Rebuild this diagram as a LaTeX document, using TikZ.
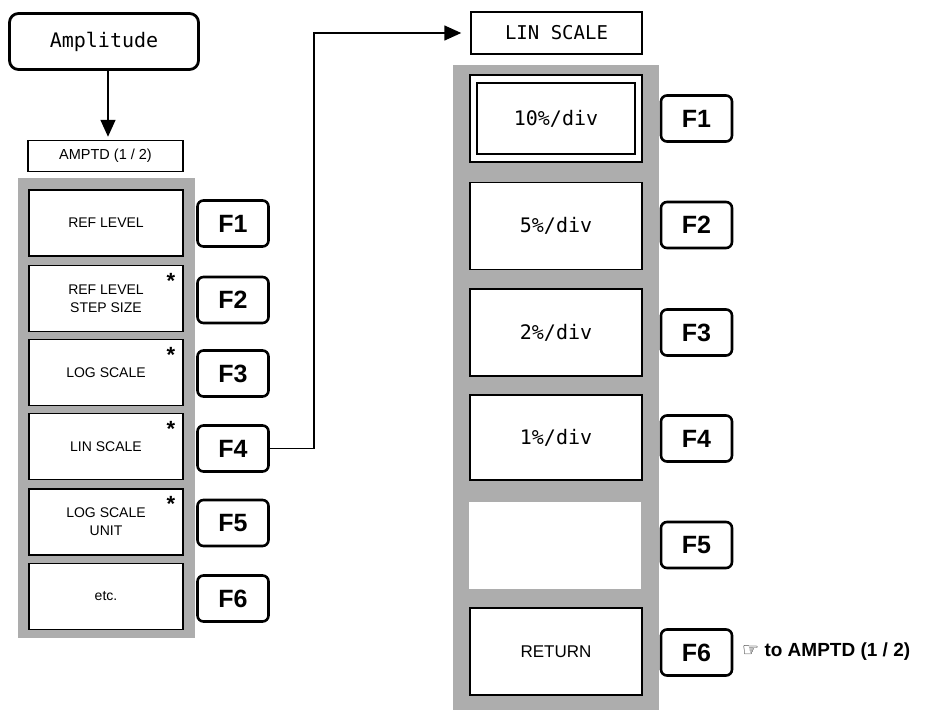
\documentclass[tikz,border=0pt]{standalone}
\usepackage{fontspec}
\setmainfont{Liberation Sans}
\newfontfamily\monofont{DejaVu Sans Mono}
\newfontfamily\symfont{DejaVu Sans}
\usetikzlibrary{arrows.meta}
\tikzset{
  panel/.style={fill=black!32, draw=none},
  menubox/.style={draw, line width=1.6pt, fill=white, minimum width=154pt, minimum height=66pt, inner sep=0pt, align=center, font=\fontsize{14}{18}\selectfont},
  rbox/.style={draw, line width=1.6pt, fill=white, minimum width=172pt, minimum height=87pt, inner sep=0pt, font=\monofont\fontsize{20}{24}\selectfont},
  fkey/.style={draw, line width=2.6pt, rounded corners=6pt, fill=white, minimum width=71pt, minimum height=46pt, inner sep=0pt, font=\bfseries\fontsize{25}{28}\selectfont},
  hdr/.style={draw, line width=1.5pt, fill=white, inner sep=0pt},
  starmark/.style={inner sep=0pt, font=\bfseries\fontsize{22}{22}\selectfont},
  conn/.style={line width=1.6pt},
  tip/.style={-{Triangle[length=17pt,width=15pt]}}
}
\begin{document}
\begin{tikzpicture}[x=1pt,y=-1pt]
\useasboundingbox (0,0) rectangle (941,713);
% header chain
\node[draw, line width=2.8pt, rounded corners=9pt, minimum width=189pt, minimum height=56pt, inner sep=0pt, font=\monofont\fontsize{20}{24}\selectfont] (amp) at (104,41.5) {Amplitude};
\node[hdr, minimum width=155pt, minimum height=31pt, font=\fontsize{14.5}{17}\selectfont] (amptd) at (105.5,156) {AMPTD (1 / 2)};
\coordinate (ampdown) at (108,70);
\draw[conn, tip, shorten >=3pt] (ampdown) -- (ampdown |- amptd.north);
% left panel
\fill[panel] (18,178) rectangle (195,638);
\node[menubox] (b1) at (106,223) {REF LEVEL};
\node[menubox] (b2) at (106,298.5) {REF LEVEL\\STEP SIZE};
\node[menubox] (b3) at (106,372.5) {LOG SCALE};
\node[menubox] (b4) at (106,446.5) {LIN SCALE};
\node[menubox] (b5) at (106,522) {LOG SCALE\\UNIT};
\node[menubox] (b6) at (106,596.5) {etc.};
\node[starmark] (s2) at (171,281) {*};
\node[starmark] (s3) at (171,355) {*};
\node[starmark] (s4) at (171,429) {*};
\node[starmark] (s5) at (171,504) {*};
\node[fkey] (lf1) at (233,223.5) {F1};
\node[fkey] (lf2) at (233,300) {F2};
\node[fkey] (lf3) at (233,373.5) {F3};
\node[fkey] (lf4) at (233,448.5) {F4};
\node[fkey] (lf5) at (233,523) {F5};
\node[fkey] (lf6) at (233,598.5) {F6};
% LIN SCALE header
\node[hdr, minimum width=171pt, minimum height=42pt, font=\monofont\fontsize{19}{22}\selectfont] (lin) at (556.5,33) {LIN SCALE};
\coordinate (bend) at (314,33);
\draw[conn, tip, shorten >=9pt] (lf4.east) -| (bend) -- (lin.west);
% right panel
\fill[panel] (453,65) rectangle (659,710);
\node[rbox] (r1) at (556,118.5) {};
\node[draw, line width=1.6pt, minimum width=158pt, minimum height=71pt, inner sep=0pt, font=\monofont\fontsize{20}{24}\selectfont] (r1in) at (r1.center) {10\%/div};
\node[rbox] (r2) at (556,226) {5\%/div};
\node[rbox] (r3) at (556,332.5) {2\%/div};
\node[rbox] (r4) at (556,437.5) [minimum height=85pt] {1\%/div};
\node[rbox, draw=none] (r5) at (555,545) {};
\node[rbox, font=\fontsize{17}{20}\selectfont] (r6) at (556,651.5) {RETURN};
\node[fkey] (rf1) at (696.5,118.5) {F1};
\node[fkey] (rf2) at (696.5,225) {F2};
\node[fkey] (rf3) at (696.5,332.5) {F3};
\node[fkey] (rf4) at (696.5,438.5) {F4};
\node[fkey] (rf5) at (696.5,545) {F5};
\node[fkey] (rf6) at (696.5,652.5) {F6};
\node[anchor=west, inner sep=0pt, font=\bfseries\fontsize{19}{22}\selectfont] (ret) at (742,652) {{\symfont\mdseries ☞} to AMPTD (1 / 2)};
\end{tikzpicture}
\end{document}
